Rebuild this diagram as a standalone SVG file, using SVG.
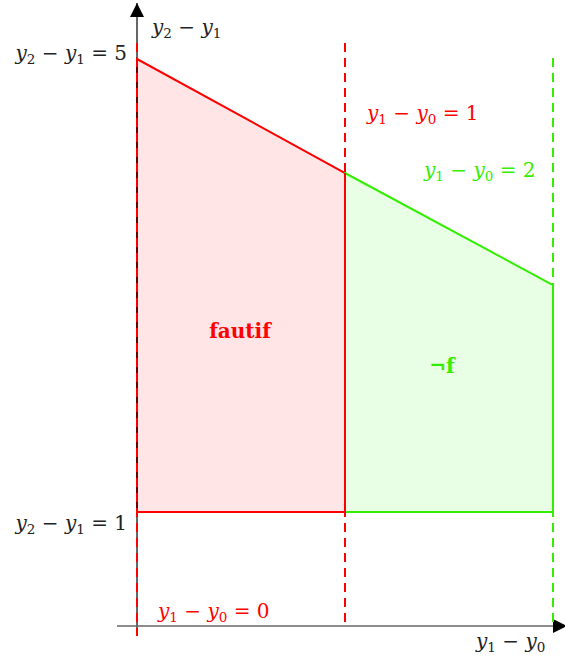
<svg xmlns="http://www.w3.org/2000/svg" width="565" height="658" viewBox="0 0 565 658">
<style>
text{font-family:"DejaVu Serif","Liberation Serif",serif;font-size:20px}
.m{font-style:italic}
.s{font-style:normal;font-size:13.5px}
.red{fill:#ff0000}
.grn{fill:#33ee00}
.blk{fill:#222}
.dr{stroke:#ff0000;stroke-width:2;stroke-dasharray:9,6;fill:none}
.dg{stroke:#33ee00;stroke-width:2;stroke-dasharray:9,6;fill:none}
</style>
<defs>
<marker id="ah2" viewBox="0 0 10 10" refX="10" refY="5" markerWidth="14" markerHeight="14" markerUnits="userSpaceOnUse" orient="auto"><path d="M0,0 L10,5 L0,10 z" fill="#000"/></marker>
</defs>
<g id="regions">
<g id="fautif-region"><polygon points="137,59 345,173 345,512 137,512" fill="#ffe5e5" stroke="#ff0000" stroke-width="2"/></g>
<g id="nonf-region"><polygon points="345,173 553,285 553,512 345,512" fill="#e9ffe5" stroke="#33ee00" stroke-width="2"/><line x1="345" y1="173" x2="345" y2="512" stroke="#ff0000" stroke-width="2"/></g>
</g>
<g id="connectors">
<line x1="137" y1="636" x2="137" y2="3" stroke="#000" stroke-width="1.2" marker-end="url(#ah2)"/>
<line x1="117" y1="626" x2="567" y2="626" stroke="#666" stroke-width="1.5" marker-end="url(#ah2)"/>
<line class="dr" x1="137" y1="43" x2="137" y2="636"/>
<line class="dr" x1="345" y1="43" x2="345" y2="626"/>
<line class="dg" x1="553" y1="58" x2="553" y2="626"/>
</g>
<g id="labels">
<text class="m blk" x="152" y="34">y<tspan class="s" dy="4">2</tspan><tspan dy="-4"> − y</tspan><tspan class="s" dy="4">1</tspan></text>
<text class="m blk" x="127" y="60" text-anchor="end">y<tspan class="s" dy="4">2</tspan><tspan dy="-4"> − y</tspan><tspan class="s" dy="4">1</tspan><tspan dy="-4" font-style="normal"> = 5</tspan></text>
<text class="m blk" x="127" y="530" text-anchor="end">y<tspan class="s" dy="4">2</tspan><tspan dy="-4"> − y</tspan><tspan class="s" dy="4">1</tspan><tspan dy="-4" font-style="normal"> = 1</tspan></text>
<text class="m red" x="367" y="120">y<tspan class="s" dy="4">1</tspan><tspan dy="-4"> − y</tspan><tspan class="s" dy="4">0</tspan><tspan dy="-4" font-style="normal"> = 1</tspan></text>
<text class="m grn" x="424" y="177">y<tspan class="s" dy="4">1</tspan><tspan dy="-4"> − y</tspan><tspan class="s" dy="4">0</tspan><tspan dy="-4" font-style="normal"> = 2</tspan></text>
<text class="m red" x="158" y="618">y<tspan class="s" dy="4">1</tspan><tspan dy="-4"> − y</tspan><tspan class="s" dy="4">0</tspan><tspan dy="-4" font-style="normal"> = 0</tspan></text>
<text class="m blk" x="476" y="648">y<tspan class="s" dy="4">1</tspan><tspan dy="-4"> − y</tspan><tspan class="s" dy="4">0</tspan></text>
<text class="red" x="240" y="338" text-anchor="middle" font-weight="bold" font-size="17">fautif</text>
<text class="grn" x="442" y="373" text-anchor="middle" font-weight="bold" font-size="17">¬f</text>
</g>
</svg>
